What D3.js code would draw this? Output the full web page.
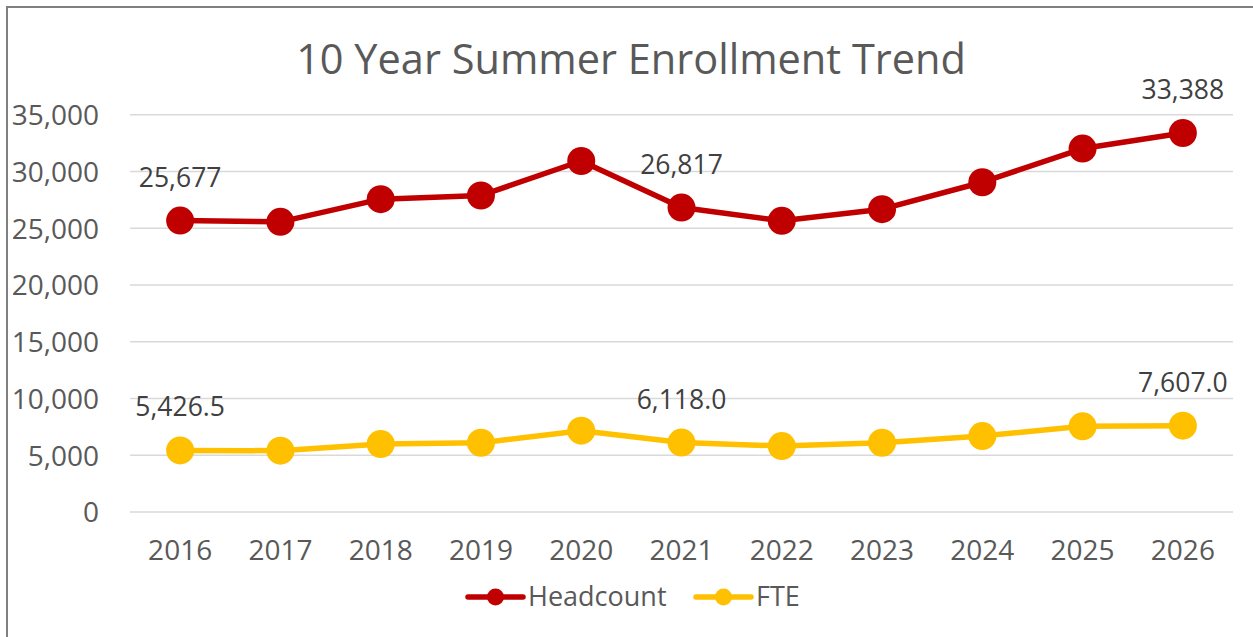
<!DOCTYPE html>
<html>
<head>
<meta charset="utf-8">
<script src="https://cdn.jsdelivr.net/npm/d3@7"></script>
<style>
  html,body{margin:0;padding:0;background:#fff;}
  svg{display:block;font-family:"Open Sans",sans-serif;}
</style>
</head>
<body>
<svg id="chart" width="1253" height="637"></svg>
<script>
const years = ["2016","2017","2018","2019","2020","2021","2022","2023","2024","2025","2026"];
const headcount = [25677,25560,27560,27880,30920,26817,25650,26680,29050,32020,33388];
const fte = [5426.5,5400,5990,6100,7160,6118.0,5810,6100,6690,7545,7607.0];
const yTicks = [0,5000,10000,15000,20000,25000,30000,35000];
// which points carry a data label
const labelYears = ["2016","2021","2026"];

const W=1253, H=637;
const svg = d3.select("#chart");

// frame
svg.append("path")
  .attr("d",`M7,${H} L7,7 L${W},7`)
  .attr("fill","none").attr("stroke","#808080").attr("stroke-width",2);

svg.append("text")
  .attr("x",631).attr("y",74)
  .attr("text-anchor","middle")
  .attr("fill","#595959")
  .attr("font-size",41.5)
  .text("10 Year Summer Enrollment Trend");

const x = d3.scaleBand().domain(years).range([130,1233]);
const y = d3.scaleLinear().domain([0,35000]).range([512,114.7]);
const fmt = d3.format(",");

// grid
svg.append("g").selectAll("line").data(yTicks).join("line")
  .attr("x1",130).attr("x2",1233)
  .attr("y1",d=>y(d)).attr("y2",d=>y(d))
  .attr("stroke","#d9d9d9").attr("stroke-width",1.5);

// y axis labels
const yAxis = svg.append("g").attr("transform","translate(99,0)")
  .call(d3.axisLeft(y).tickValues(yTicks).tickFormat(fmt).tickSize(0).tickPadding(0));
yAxis.select(".domain").remove();
yAxis.selectAll("text").attr("fill","#595959").attr("font-size",28)
  .attr("font-family","'Open Sans',sans-serif").attr("dy","0.35em");

// x axis labels
const xAxis = svg.append("g").attr("transform","translate(0,540)")
  .call(d3.axisBottom(x).tickSize(0).tickPadding(0));
xAxis.select(".domain").remove();
xAxis.selectAll("text").attr("fill","#595959").attr("font-size",28)
  .attr("font-family","'Open Sans',sans-serif").attr("dy","0.71em");

const cx = d=>x(d)+x.bandwidth()/2;
const series = [
  {name:"Headcount", values:headcount, color:"#c00000", f:fmt},
  {name:"FTE", values:fte, color:"#ffc000", f:d3.format(",.1f")}
];

const line = d3.line().x((d,i)=>cx(years[i])).y(d=>y(d));

series.forEach(s=>{
  const g = svg.append("g");
  g.append("path").datum(s.values)
    .attr("d",line).attr("fill","none")
    .attr("stroke",s.color).attr("stroke-width",5.5)
    .attr("stroke-linejoin","round");
  g.selectAll("circle").data(s.values).join("circle")
    .attr("cx",(d,i)=>cx(years[i])).attr("cy",d=>y(d))
    .attr("r",14).attr("fill",s.color);
  g.selectAll("text").data(s.values.map((v,i)=>({v,yr:years[i]})).filter(d=>labelYears.includes(d.yr)))
    .join("text")
    .attr("x",d=>cx(d.yr)).attr("y",d=>y(d.v)-34)
    .attr("text-anchor","middle")
    .attr("fill","#404040").attr("font-size",26.5)
    .text(d=>s.f(d.v));
});

// legend
const legend = [
  {name:"Headcount", color:"#c00000", x:468},
  {name:"FTE", color:"#ffc000", x:696}
];
const lg = svg.append("g").selectAll("g").data(legend).join("g")
  .attr("transform",d=>`translate(${d.x},597)`);
lg.append("line").attr("x1",0).attr("x2",55)
  .attr("stroke",d=>d.color).attr("stroke-width",5.5).attr("stroke-linecap","round");
lg.append("circle").attr("cx",27.5).attr("r",8.5).attr("fill",d=>d.color);
lg.append("text").attr("x",60).attr("dy","0.35em")
  .attr("fill","#595959").attr("font-size",27)
  .text(d=>d.name);
</script>
</body>
</html>
